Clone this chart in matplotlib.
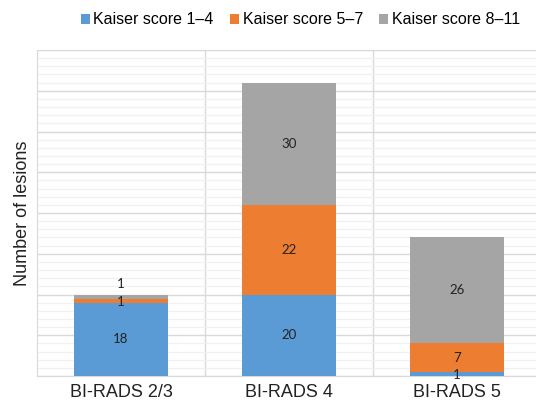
import numpy as np
import matplotlib.pyplot as plt
from matplotlib.ticker import MultipleLocator

categories = ["BI-RADS 2/3", "BI-RADS 4", "BI-RADS 5"]
series_names = ["Kaiser score 1\u20134", "Kaiser score 5\u20137", "Kaiser score 8\u201311"]
ks_1_4 = [18, 20, 1]
ks_5_7 = [1, 22, 7]
ks_8_11 = [1, 30, 26]
colors = ["#5B9BD5", "#ED7D31", "#A5A5A5"]

plt.rcParams['font.family'] = ['Liberation Sans', 'DejaVu Sans']

fig = plt.figure(figsize=(5.36, 4.07), dpi=100)
ax = fig.add_axes([37 / 536, 31 / 407, 504 / 536, 326 / 407])

x = np.arange(len(categories))
series = [ks_1_4, ks_5_7, ks_8_11]
bottom = np.zeros(len(categories))
for vals, name, c in zip(series, series_names, colors):
    vals = np.array(vals, dtype=float)
    ax.bar(x, vals, 0.56, bottom=bottom, color=c, label=name, zorder=3)
    for i, v in enumerate(vals):
        y = bottom[i] + v / 2
        # thin segments: nudge the label so it stays readable
        if v <= 1 and name == series_names[2]:
            y = bottom[i] + v + 2.5
        elif v <= 1:
            y = bottom[i] + v / 2 - 0.3
        ax.text(x[i], y, str(int(v)), ha='center', va='center',
                fontsize=9.5, family=['Lato', 'DejaVu Sans'], color='#222222', zorder=4)
    bottom += vals

ax.set_xlim(-0.5, 2.5)
ax.set_ylim(0, 80)
ax.yaxis.set_major_locator(MultipleLocator(10))
ax.yaxis.set_minor_locator(MultipleLocator(2))
ax.grid(axis='y', which='major', color='#D9D9D9', lw=1.0, zorder=1)
ax.grid(axis='y', which='minor', color='#F0F0F0', lw=0.9, zorder=0)
for xv in [0.5, 1.5]:
    ax.axvline(xv, color='#D9D9D9', lw=1.0, zorder=1)
for s in ax.spines.values():
    s.set_color('#D9D9D9')
ax.spines['right'].set_visible(False)

ax.set_xticks(x)
ax.set_xticklabels(categories, fontsize=13, color='#222222')
ax.tick_params(axis='x', length=0, pad=6)
ax.tick_params(axis='y', which='both', length=0, labelleft=False)
ax.set_ylabel("Number of lesions", fontsize=13, color='#222222', labelpad=4)

handles, labels = ax.get_legend_handles_labels()
fig.legend(handles, labels, loc='upper center', bbox_to_anchor=(0.56, 1.005), ncol=3,
           frameon=False, fontsize=11.5, handlelength=0.6, handleheight=0.6,
           handletextpad=0.2, columnspacing=1.0)

fig.savefig('out.png', dpi=100)
